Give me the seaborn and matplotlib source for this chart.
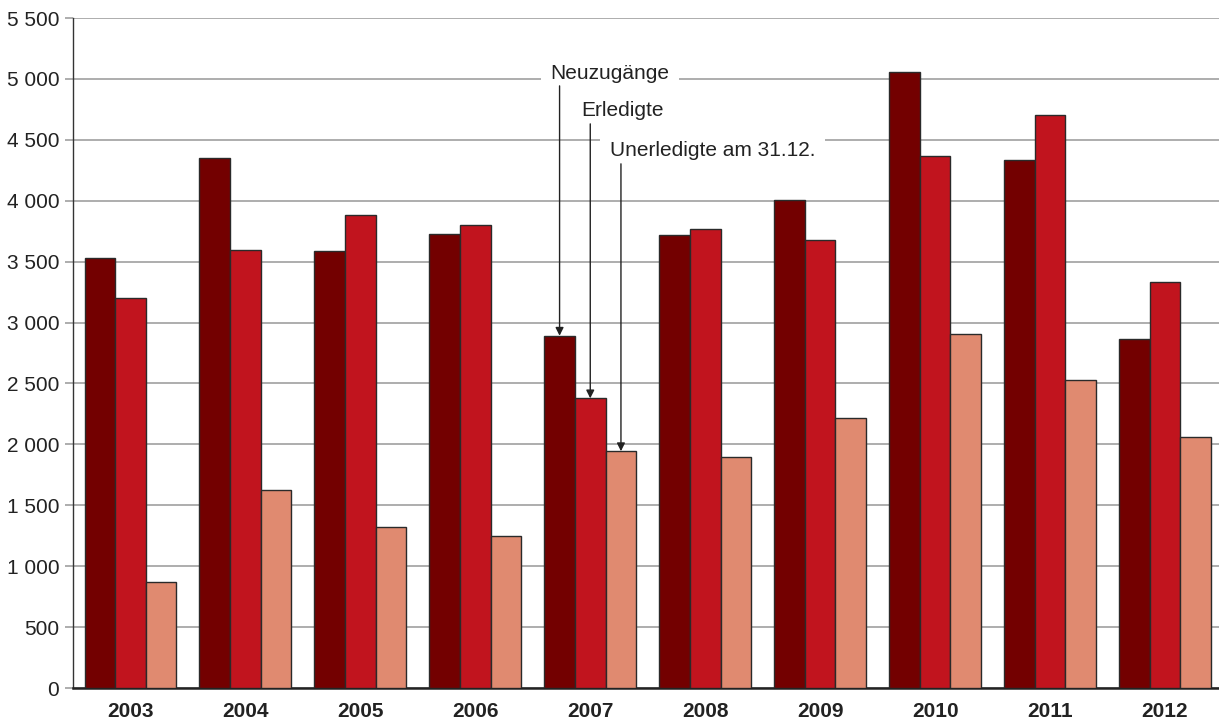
import numpy as np
import pandas as pd
import matplotlib
matplotlib.use("Agg")
import matplotlib.pyplot as plt
import seaborn as sns

# --------------------------------------------------------------------
# data
# --------------------------------------------------------------------
years = ["2003", "2004", "2005", "2006", "2007", "2008", "2009", "2010", "2011", "2012"]
neuzugaenge = [3530, 4355, 3587, 3726, 2892, 3721, 4008, 5060, 4333, 2865]
erledigte = [3204, 3598, 3887, 3800, 2378, 3770, 3680, 4371, 4707, 3333]
unerledigte = [869, 1624, 1320, 1247, 1944, 1894, 2220, 2903, 2529, 2062]
series_names = ["Neuzugänge", "Erledigte", "Unerledigte am 31.12."]
y_ticks = list(range(0, 5501, 500))

colors = ["#730000", "#c1141e", "#e08a70"]

df = pd.DataFrame({
    "year": years * 3,
    "value": neuzugaenge + erledigte + unerledigte,
    "series": [series_names[0]] * 10 + [series_names[1]] * 10 + [series_names[2]] * 10,
})

# --------------------------------------------------------------------
# plot
# --------------------------------------------------------------------
sns.set_style("white")
plt.rcParams["font.family"] = ["Liberation Sans", "DejaVu Sans"]

fig = plt.figure(figsize=(12.19, 7.24), dpi=100)
ax = fig.add_axes([0.0599, 0.0497, 0.9401, 0.9254])

sns.barplot(data=df, x="year", y="value", hue="series", hue_order=series_names,
            palette=colors, width=0.8, edgecolor="#2a2a2a", linewidth=1.0,
            saturation=1, legend=False, ax=ax, zorder=3)

ax.set_xlim(-0.5, 9.47)
ax.set_ylim(0, 5500)
ax.set_yticks(y_ticks)
ax.set_yticklabels([f"{v:,}".replace(",", " ") for v in y_ticks], fontsize=15, color="#222222")
ax.set_xticklabels(years, fontsize=15, fontweight="bold", color="#222222")
ax.set_xlabel("")
ax.set_ylabel("")

ax.yaxis.grid(True, color="#a0a0a0", linewidth=1.2, zorder=0)
ax.set_axisbelow(True)
ax.tick_params(axis="y", length=6, color="#a0a0a0", width=1.2, pad=4, left=True)
ax.tick_params(axis="x", length=0, pad=10)

for s in ["top", "right"]:
    ax.spines[s].set_visible(False)
ax.spines["left"].set_color("#333333")
ax.spines["left"].set_linewidth(1.0)
ax.spines["bottom"].set_color("#222222")
ax.spines["bottom"].set_linewidth(1.8)

# annotations pointing to the 2007 bars
i2007 = years.index("2007")
offs = [-0.267, 0.0, 0.267]
vals2007 = [neuzugaenge[i2007], erledigte[i2007], unerledigte[i2007]]
text_pos = [(3.655, 5041), (3.925, 4737), (4.169, 4409)]
arrow_start = [4943, 4631, 4303]
for name, off, v, (tx, ty), ys in zip(series_names, offs, vals2007, text_pos, arrow_start):
    ax.text(tx, ty, name, fontsize=15, color="#222222", va="center", ha="left", zorder=5,
            bbox=dict(boxstyle="square,pad=0.45", facecolor="white", edgecolor="none"))
    ax.annotate("", xy=(i2007 + off, v), xytext=(i2007 + off, ys),
                arrowprops=dict(arrowstyle="-|>", color="#222222", lw=1.0,
                                mutation_scale=12, shrinkA=0, shrinkB=0),
                zorder=6)

plt.savefig("out.png", dpi=100)
